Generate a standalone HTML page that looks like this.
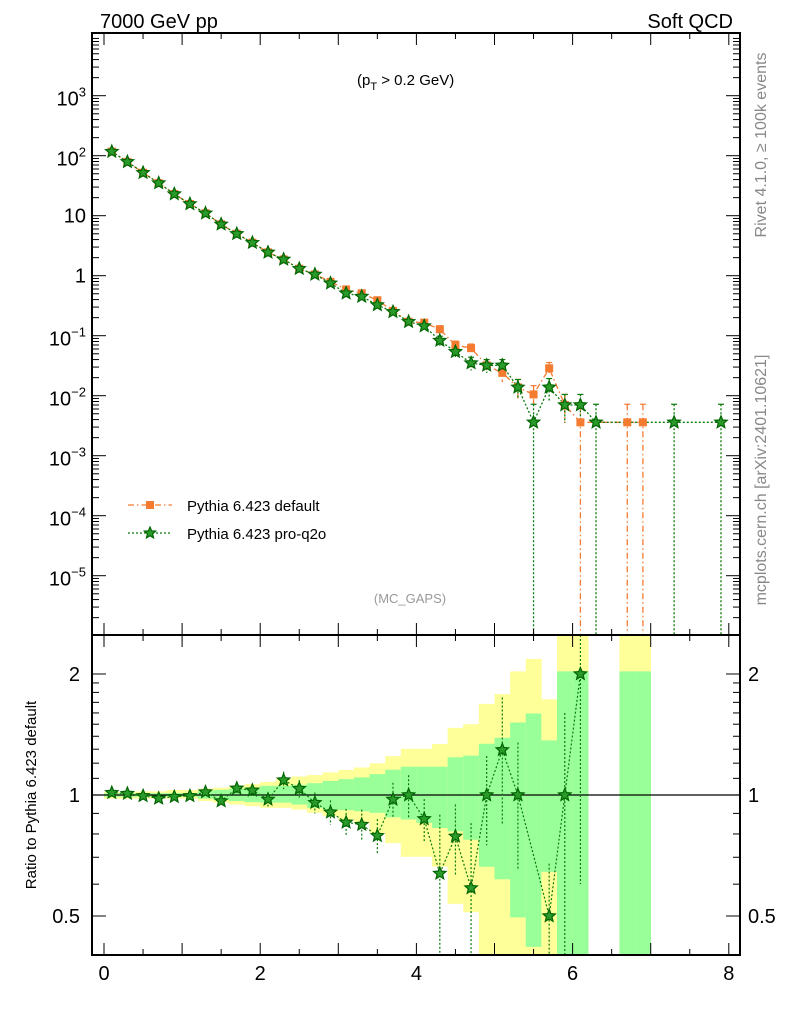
<!DOCTYPE html>
<html><head><meta charset="utf-8"><style>
html,body{margin:0;padding:0;background:#fff;}
svg{display:block;font-family:"Liberation Sans",sans-serif;}
</style></head><body>
<svg id="chart" width="786" height="1024" viewBox="0 0 786 1024" xmlns="http://www.w3.org/2000/svg">
<g id="bands"></g>
<g id="lines"></g>
<g id="marks"></g>
<g id="axes"></g>
<text x="100" y="28" font-size="20">7000 GeV pp</text>
<text x="733" y="28" font-size="20" text-anchor="end">Soft QCD</text>
<text x="357" y="85" font-size="15">(p<tspan font-size="11" dy="5">T</tspan><tspan dy="-5"> &gt; 0.2 GeV)</tspan></text>
<text x="410" y="603" font-size="13" fill="#999" text-anchor="middle">(MC_GAPS)</text>
<text transform="translate(766,145) rotate(-90)" font-size="16" fill="#888" text-anchor="middle">Rivet 4.1.0, ≥ 100k events</text>
<text transform="translate(766,480) rotate(-90)" font-size="16" fill="#888" text-anchor="middle">mcplots.cern.ch [arXiv:2401.10621]</text>
<text transform="translate(36,795) rotate(-90)" font-size="15" text-anchor="middle">Ratio to Pythia 6.423 default</text>
<g>
 <g>
  <line x1="128" y1="505" x2="172" y2="505" stroke="#f47b30" stroke-width="1.3" stroke-dasharray="6,3,1.5,3"/>
  <rect x="146" y="501" width="8" height="8" fill="#f47b30"/>
  <text x="187" y="511" font-size="15">Pythia 6.423 default</text>
 </g>
 <g>
  <line x1="128" y1="533" x2="172" y2="533" stroke="#0a7a0a" stroke-width="1.3" stroke-dasharray="2,2"/>
  <polygon id="legstar" fill="#2a9a2a" stroke="#006400" stroke-width="1.2"/>
  <text x="187" y="539" font-size="15">Pythia 6.423 pro-q2o</text>
 </g>
</g>
</svg>
<script>
const xCenters=[0.1,0.3,0.5,0.7,0.9,1.1,1.3,1.5,1.7,1.9,2.1,2.3,2.5,2.7,2.9,3.1,3.3,3.5,3.7,3.9,4.1,4.3,4.5,4.7,4.9,5.1,5.3,5.5,5.7,5.9,6.1,6.3,6.5,6.7,6.9,7.1,7.3,7.5,7.7,7.9];
const defaultVals=[117,79,52,35,23,15.7,11,7.2,5.0,3.55,2.45,1.87,1.31,1.05,0.79,0.59,0.51,0.39,0.26,0.171,0.165,0.128,0.07,0.062,0.032,0.024,0.0138,0.0105,0.0286,0.007,0.0036,0,0,0.0036,0.0036,0,0,0,0,0];
const proq2oVals=[117,79,52,35,23,15.7,11,7.2,5.0,3.55,2.45,1.87,1.31,1.05,0.75,0.51,0.45,0.325,0.25,0.171,0.145,0.083,0.054,0.035,0.032,0.032,0.0138,0.0036,0.0138,0.007,0.007,0.0036,0,0,0,0,0.0036,0,0,0.0036];
const defaultRelErr=[0.01,0.01,0.01,0.01,0.01,0.01,0.02,0.02,0.02,0.03,0.03,0.04,0.04,0.05,0.06,0.07,0.07,0.08,0.1,0.12,0.12,0.14,0.16,0.17,0.25,0.3,0.35,0.4,0.25,0.5,1,0,0,1,1,0,0,0,0,0];
const proq2oRelErr=[0.01,0.01,0.01,0.01,0.01,0.01,0.02,0.02,0.02,0.03,0.03,0.04,0.04,0.05,0.06,0.07,0.07,0.08,0.1,0.12,0.12,0.18,0.2,0.25,0.25,0.25,0.35,1,0.4,0.5,0.5,1,0,0,0,0,1,0,0,1];
const ratioVals=[1.013,1.008,0.995,0.981,0.99,0.995,1.017,0.966,1.039,1.027,0.975,1.089,1.037,0.957,0.906,0.855,0.844,0.792,0.975,1.0,0.872,0.638,0.789,0.587,1.0,1.295,1.0,0,0.5,1.0,2.0,0,0,0,0,0,0,0,0,0];
const ratioRelErr=[0.01,0.01,0.01,0.01,0.01,0.01,0.02,0.02,0.03,0.03,0.04,0.05,0.05,0.06,0.07,0.08,0.09,0.1,0.1,0.12,0.12,0.4,0.2,0.45,0.25,0.35,0.35,0,0.35,0.6,0.7,0,0,0,0,0,0,0,0,0];
const yellowUp=[1.017,1.017,1.021,1.021,1.029,1.029,1.037,1.043,1.054,1.064,1.078,1.095,1.112,1.121,1.138,1.154,1.171,1.199,1.249,1.303,1.303,1.339,1.469,1.5,1.685,1.782,2.03,2.18,1.73,3,3,0,0,3,3,0,0,0,0,0];
const yellowLo=[0.979,0.979,0.979,0.979,0.979,0.979,0.966,0.957,0.947,0.938,0.929,0.929,0.92,0.903,0.886,0.869,0.852,0.804,0.759,0.702,0.702,0.663,0.536,0.511,0.3,0.3,0.3,0.3,0.3,0.3,0.3,0,0,0.3,0.3,0,0,0,0,0];
const greenUp=[1.01,1.01,1.01,1.01,1.01,1.01,1.023,1.03,1.037,1.045,1.054,1.054,1.06,1.07,1.084,1.095,1.106,1.127,1.156,1.176,1.176,1.176,1.241,1.253,1.341,1.388,1.515,1.595,1.367,2.03,2.03,0,0,2.03,2.03,0,0,0,0,0];
const greenLo=[0.99,0.99,0.99,0.99,0.99,0.99,0.979,0.972,0.966,0.96,0.957,0.957,0.947,0.929,0.92,0.917,0.911,0.903,0.88,0.869,0.852,0.828,0.812,0.774,0.663,0.617,0.496,0.419,0.644,0.3,0.3,0,0,0.3,0.3,0,0,0,0,0];
const binWidth=0.2;

const NS="http://www.w3.org/2000/svg";
const L=92,R=740,T=33,M=635,B=955;
const X=v=>104+78.1*v;
const Y=v=>Math.min(M,Math.max(T,275.7-60*Math.log10(v)));
const RY=v=>Math.min(B,Math.max(M,795-402*Math.log10(v)));
function mk(tag,attrs,parent){const e=document.createElementNS(NS,tag);for(const k in attrs)e.setAttribute(k,attrs[k]);parent.appendChild(e);return e;}
function starPts(cx,cy,r){let p=[];for(let i=0;i<10;i++){const a=-Math.PI/2+i*Math.PI/5;const rr=i%2?r*0.45:r;p.push((cx+rr*Math.cos(a)).toFixed(1)+","+(cy+rr*Math.sin(a)).toFixed(1));}return p.join(" ");}
document.getElementById('legstar').setAttribute('points',starPts(150,533,6));

const bands=document.getElementById('bands');
for(let i=0;i<xCenters.length;i++){
  const x0=X(xCenters[i]-binWidth/2),x1=X(xCenters[i]+binWidth/2);
  if(yellowUp[i]>0){
    const r=mk('rect',{x:x0,y:RY(yellowUp[i]),width:x1-x0+0.3,height:RY(yellowLo[i])-RY(yellowUp[i]),fill:'#ffff99'},bands);
    
    
  }
  if(greenUp[i]>0){
    const r=mk('rect',{x:x0,y:RY(greenUp[i]),width:x1-x0+0.3,height:RY(greenLo[i])-RY(greenUp[i]),fill:'#99ff99'},bands);
    
    
  }
}
mk('line',{x1:L,y1:RY(1),x2:R,y2:RY(1),stroke:'#000','stroke-width':1.2},bands);

const lines=document.getElementById('lines'),marks=document.getElementById('marks');
function drawSeries(vals,errs,color,dash,kind,name){
  let pts=[];
  for(let i=0;i<vals.length;i++){ if(vals[i]>0) pts.push(X(xCenters[i]).toFixed(1)+","+Y(vals[i]).toFixed(1)); }
  const pl=mk('polyline',{points:pts.join(" "),fill:'none',stroke:color,'stroke-width':1.3,'stroke-dasharray':dash},lines);
  
  
  for(let i=0;i<vals.length;i++){
    const v=vals[i]; if(!(v>0)) continue;
    const cx=X(xCenters[i]);
    const hi=v*(1+errs[i]), lo=v*(1-errs[i]);
    const eb=mk('line',{x1:cx,x2:cx,y1:Y(hi),y2:lo>0?Y(lo):M,stroke:color,'stroke-width':1.3,'stroke-dasharray':dash},lines);
    
    
    mk('line',{x1:cx-3,x2:cx+3,y1:Y(hi),y2:Y(hi),stroke:color,'stroke-width':1.2},lines);
    let m;
    if(kind==='square') m=mk('rect',{x:cx-4,y:Y(v)-4,width:8,height:8,fill:color},marks);
    else m=mk('polygon',{points:starPts(cx,Y(v),6.5),fill:'#2a9a2a',stroke:'#006400','stroke-width':1.2},marks);
    
    
  }
}
drawSeries(defaultVals,defaultRelErr,'#f47b30','6,3,1.5,3','square','default');
drawSeries(proq2oVals,proq2oRelErr,'#0a7a0a','2,2','star','pro-q2o');

let rp=[];
for(let i=0;i<ratioVals.length;i++){ if(ratioVals[i]>0) rp.push(X(xCenters[i]).toFixed(1)+","+RY(ratioVals[i]).toFixed(1)); }
const rl=mk('polyline',{points:rp.join(" "),fill:'none',stroke:'#0a7a0a','stroke-width':1.2,'stroke-dasharray':'2,2'},lines);


for(let i=0;i<ratioVals.length;i++){
  const v=ratioVals[i]; if(!(v>0)) continue;
  const cx=X(xCenters[i]);
  const eb=mk('line',{x1:cx,x2:cx,y1:RY(v*(1+ratioRelErr[i])),y2:RY(v*(1-ratioRelErr[i])),stroke:'#0a7a0a','stroke-width':1.2,'stroke-dasharray':'2,2'},lines);
  
  
  const m=mk('polygon',{points:starPts(cx,RY(v),6.5),fill:'#2a9a2a',stroke:'#006400','stroke-width':1.2},marks);
  
  
}

const ax=document.getElementById('axes');
mk('rect',{x:L,y:T,width:R-L,height:M-T,fill:'none',stroke:'#000','stroke-width':2},ax);
mk('rect',{x:L,y:M,width:R-L,height:B-M,fill:'none',stroke:'#000','stroke-width':2},ax);
for(let t=0;t<=8.01;t+=0.5){
  const x=X(t), len=(Math.abs(t-Math.round(t))<1e-6)?12:6;
  for(const [y0,d] of [[T,1],[M,-1],[M,1],[B,-1]]) mk('line',{x1:x,x2:x,y1:y0,y2:y0+d*len,stroke:'#000','stroke-width':1},ax);
}
const xTickLabels=['0','2','4','6','8'];
xTickLabels.forEach(s=>{const t=mk('text',{x:X(+s),y:980,'font-size':20,'text-anchor':'middle'},ax);t.textContent=s;
 
 });
for(let e=-6;e<4;e++){
  for(let k=1;k<10;k++){
    const v=k*Math.pow(10,e); const y=275.7-60*Math.log10(v); if(y<T||y>M) continue;
    const len=k===1?14:7;
    mk('line',{x1:L,x2:L+len,y1:y,y2:y,stroke:'#000','stroke-width':1},ax);
    mk('line',{x1:R,x2:R-len,y1:y,y2:y,stroke:'#000','stroke-width':1},ax);
  }
}
const yTickExp=[3,2,1,0,-1,-2,-3,-4,-5];
yTickExp.forEach(e=>{
  const y=275.7-60*e;
  const t=mk('text',{x:86,y:y+7,'font-size':20,'text-anchor':'end'},ax);
  
  
  if(e===0) t.textContent='1'; else if(e===1) t.textContent='10';
  else {
    t.setAttribute('y',y+10);
    const b=document.createElementNS(NS,'tspan'); b.textContent='10'; t.appendChild(b);
    const s=document.createElementNS(NS,'tspan'); s.setAttribute('font-size','13'); s.setAttribute('dy','-9'); s.textContent=String(e).replace('-','\u2212'); t.appendChild(s);
  }
});
const ratioTicks=[0.5,0.6,0.7,0.8,0.9,1,1.1,1.2,1.3,1.4,1.5,1.6,1.7,1.8,1.9,2];
ratioTicks.forEach(v=>{const y=RY(v);const big=(v===0.5||v===1||v===2);const len=big?14:7;
 mk('line',{x1:L,x2:L+len,y1:y,y2:y,stroke:'#000'},ax);mk('line',{x1:R,x2:R-len,y1:y,y2:y,stroke:'#000'},ax);});
const ratioLabels=['0.5','1','2'];
ratioLabels.forEach(s=>{const y=RY(+s)+7;
 const a=mk('text',{x:80,y:y,'font-size':20,'text-anchor':'end'},ax);a.textContent=s;
 
 
 const b=mk('text',{x:748,y:y,'font-size':20},ax);b.textContent=s;
 
 });
</script>
</body></html>
